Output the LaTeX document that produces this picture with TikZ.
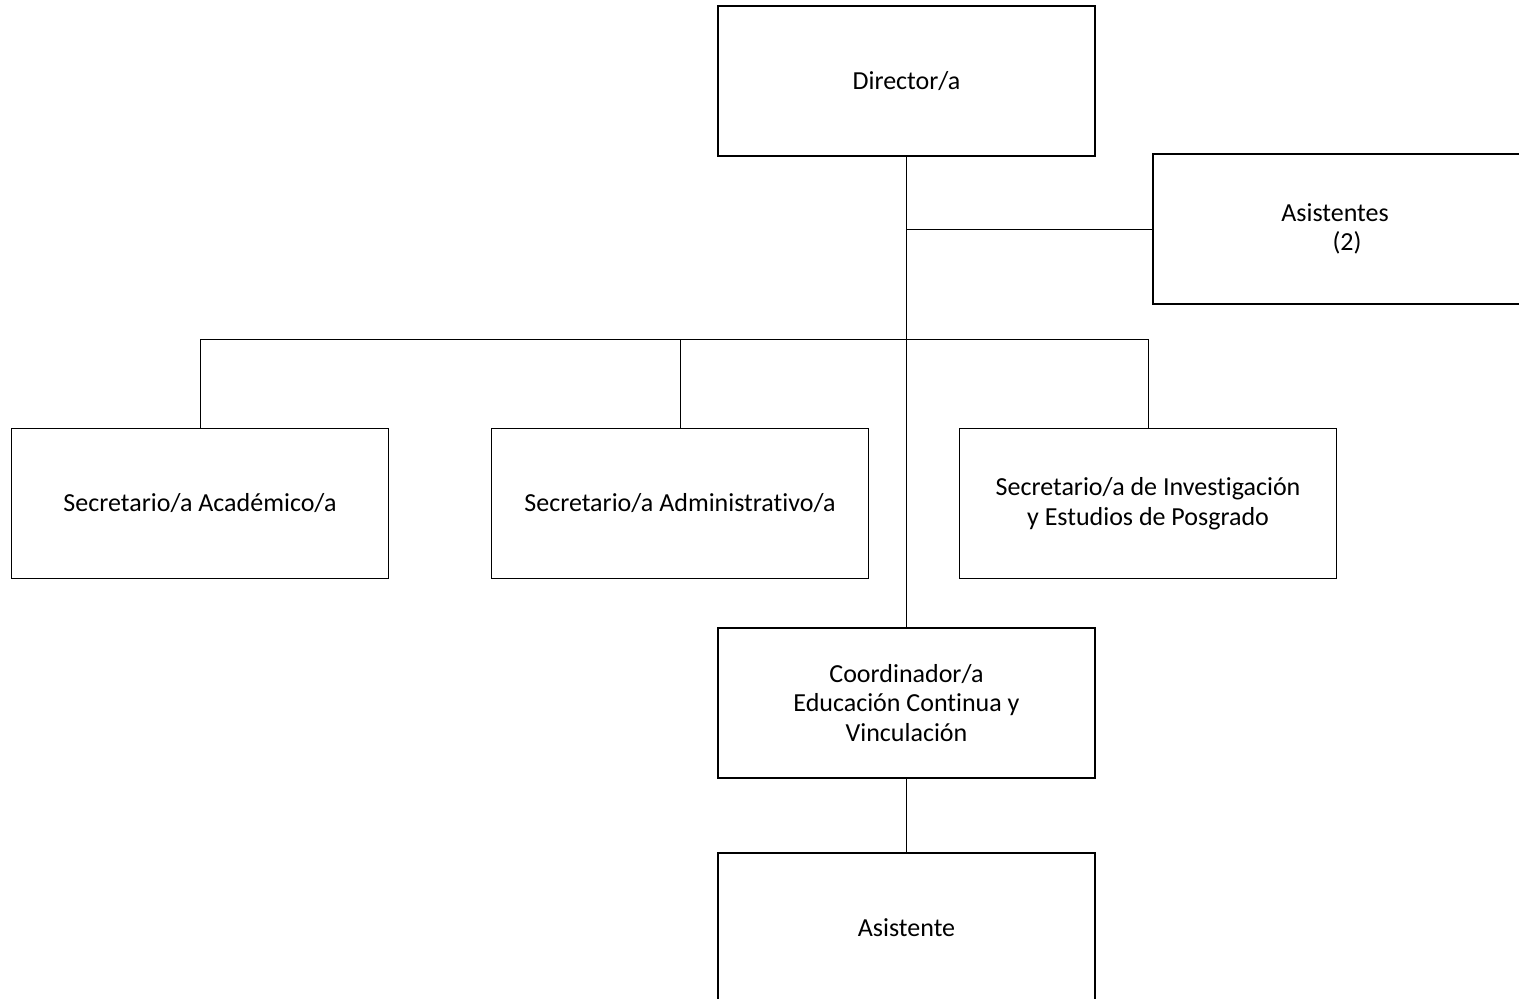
\documentclass[tikz,border=0pt]{standalone}
\usepackage{fontspec}
\setmainfont{Carlito}[Ligatures=NoCommon]
\usepackage{tikz}
\usetikzlibrary{positioning}

\begin{document}
\begin{tikzpicture}[
  x=0.5pt, y=-0.5pt,
  box/.style={draw, line width=0.6pt, minimum width=188.5pt, minimum height=75pt,
    font=\fontsize{13}{14.75}\selectfont, align=center, inner sep=2pt},
  conn/.style={line width=0.5pt},
]
\useasboundingbox (0,0) rectangle (1519,998);
\clip (0,0) rectangle (1519,998);

% --- Top: director and assistants ---
\node[box] (dir)  at (906.5,81)   {Director/a};
\node[box] (asis) at (1341.5,229) {\hspace*{-6.5pt}Asistentes\\\hspace*{5.5pt}(2)};

% --- Secretaries row ---
\node[box] (secac)  at (200,503.5)  {Secretario/a Académico/a};
\node[box] (secad)  at (680,503.5)  {Secretario/a Administrativo/a};
\node[box] (secinv) at (1148,503.5) {Secretario/a de Investigación\\ y Estudios de Posgrado};

% --- Coordination ---
\node[box] (coord) at (906.5,703) {Coordinador/a\\ Educación Continua y\\ Vinculación};
\node[box] (asist) at (906.5,928) {Asistente};

% --- Connectors ---
\coordinate (bus) at (906.5,339);
\draw[conn] (dir.south) -- (coord.north);
\draw[conn] (dir.south |- asis.west) -- (asis.west);
\draw[conn] (secac.north) |- (bus) -| (secinv.north);
\draw[conn] (secad.north) -- (secad.north |- bus);
\draw[conn] (coord.south) -- (asist.north);
\end{tikzpicture}
\end{document}
